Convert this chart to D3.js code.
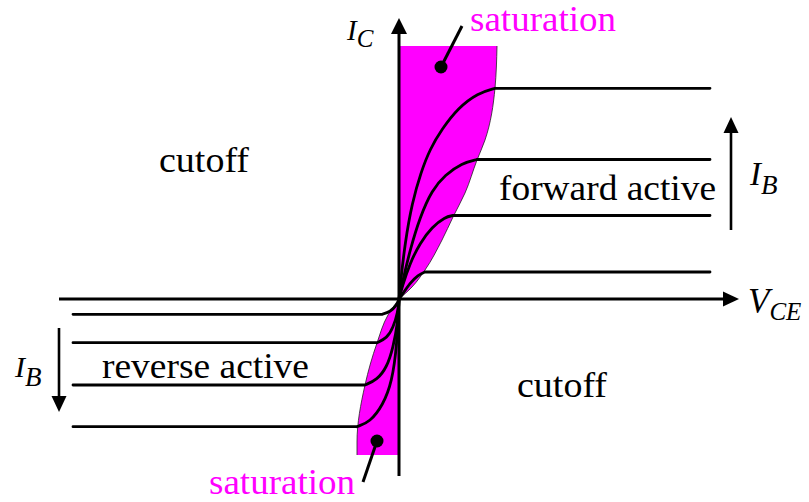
<!DOCTYPE html>
<html>
<head>
<meta charset="utf-8">
<script src="https://cdn.jsdelivr.net/npm/d3@7/dist/d3.min.js"></script>
<style>
  body { margin: 0; background: #fff; }
  svg { display: block; }
</style>
</head>
<body>
<div id="chart"></div>
<script>
// BJT output characteristic, I_C against V_CE (arbitrary units)
const vceExtent = [-34, 34];
const icExtent = [-17.6, 28.1];

// forward active curves, [VCE, IC]
const forwardCurves = [
    [[0, 0], [0.3, 0.4], [1.1, 1.6], [1.9, 2.4], [2.6, 2.7], [31.1, 2.7]],
    [[0, 0], [0.3, 1.2], [1.1, 3.6], [2.1, 5.6], [3.3, 7.2], [4.6, 8.2], [5.4, 8.35], [31.1, 8.35]],
    [[0, 0], [0.4, 1.9], [1.1, 4.9], [2.1, 8.2], [3.3, 10.9], [4.6, 12.4], [6.3, 13.6], [7.8, 13.95], [31.1, 13.95]],
    [[0, 0], [0.15, 1.6], [0.6, 5.6], [1.3, 9.6], [2.2, 12.7], [3.1, 15.0], [4.3, 17.0], [5.9, 19.1], [7.9, 20.6], [9.6, 21.07], [31.1, 21.07]]
];

// reverse active curves, [VCE, IC]
const reverseCurves = [
    [[-32.6, -1.53], [-1.7, -1.53], [-0.9, -1.3], [-0.2, -0.6], [0, 0]],
    [[-32.6, -4.37], [-2.2, -4.37], [-1.2, -3.9], [-0.6, -2.9], [-0.1, -1.3], [0, 0]],
    [[-32.6, -8.6], [-3.4, -8.6], [-2.2, -8.1], [-1.2, -6.8], [-0.6, -4.9], [-0.1, -2.3], [0, 0]],
    [[-32.6, -12.77], [-4.2, -12.77], [-2.9, -12.3], [-1.6, -10.6], [-0.7, -8.3], [-0.2, -4.6], [0, 0]]
];

// saturation region edges, [VCE, IC]
const satForward = [[0, 0], [1.3, 1.2], [2.6, 2.9], [4.3, 5.9], [5.4, 8.2], [6.6, 10.6], [7.8, 13.9], [8.6, 15.9], [9.6, 21.1], [9.8, 25.3]];
const satReverse = [[-4.2, -15.6], [-4.2, -14.3], [-3.4, -8.6], [-2.2, -4.4], [-1.1, -1.6], [0, 0]];

// I_B direction arrows, [VCE, IC from, IC to]
const ibArrows = [[33.2, 6.9, 18.2], [-34, -2.9, -11.3]];

// saturation pointers, [dot, end]
const satPointers = [[[4.2, 23.2], [6.3, 27.3]], [[-2.2, -14.2], [-3.6, -18.3]]];

const regionLabels = ['cutoff', 'forward active', 'reverse active', 'cutoff'];
const satLabel = 'saturation';

const width = 809, height = 502;
const magenta = '#ff00ff';
const FONT = "'Liberation Serif', 'Times New Roman', Tinos, 'Nimbus Roman', FreeSerif, 'DejaVu Serif'";

const svg = d3.select('#chart').append('svg')
    .attr('width', width)
    .attr('height', height);

const x = d3.scaleLinear().domain(vceExtent).range([59, 739]);
const y = d3.scaleLinear().domain(icExtent).range([475, 18]);

// saturation fill
const satArea = d3.area()
    .curve(d3.curveMonotoneY)
    .y(d => y(d[1]))
    .x0(x(0))
    .x1(d => x(d[0]));
const satEdge = d3.line()
    .curve(d3.curveMonotoneY)
    .x(d => x(d[0]))
    .y(d => y(d[1]));

[satForward, satReverse].forEach(pts => {
    svg.append('path')
        .attr('d', satArea(pts))
        .attr('fill', magenta);
    svg.append('path')
        .attr('d', satEdge(pts))
        .attr('fill', 'none')
        .attr('stroke', '#222')
        .attr('stroke-width', 0.8);
});

// characteristic curves: smooth bend, then flat run
const bendLine = d3.line()
    .curve(d3.curveBasis)
    .x(d => x(d[0]))
    .y(d => y(d[1]));

function curvePath(pts) {
    let flatAtEnd = pts[0][0] === 0;
    let bend = flatAtEnd ? pts.slice(0, -1) : pts.slice(1);
    let far = flatAtEnd ? pts[pts.length - 1] : pts[0];
    let knee = flatAtEnd ? bend[bend.length - 1] : bend[0];
    return bendLine(bend) + `M${ x(knee[0]) },${ y(knee[1]) }H${ x(far[0]) }`;
}

svg.append('g').selectAll('path')
    .data(forwardCurves.concat(reverseCurves))
    .enter()
    .append('path')
        .attr('d', curvePath)
        .attr('fill', 'none')
        .attr('stroke', '#000')
        .attr('stroke-width', 2.8)
        .attr('stroke-linecap', 'round');

// arrow helper
function arrow(x1, y1, x2, y2, sw, headLen, headHalf) {
    let ang = Math.atan2(y2 - y1, x2 - x1);
    let bx = x2 - headLen * Math.cos(ang), by = y2 - headLen * Math.sin(ang);
    svg.append('line')
        .attr('x1', x1).attr('y1', y1)
        .attr('x2', bx).attr('y2', by)
        .attr('stroke', '#000')
        .attr('stroke-width', sw);
    let px = -Math.sin(ang) * headHalf, py = Math.cos(ang) * headHalf;
    svg.append('polygon')
        .attr('points', `${ x2 },${ y2 } ${ bx + px },${ by + py } ${ bx - px },${ by - py }`)
        .attr('fill', '#000');
}

// axes
arrow(x(vceExtent[0]), y(0), x(vceExtent[1]), y(0), 3, 16, 7.5);
arrow(x(0), y(icExtent[0]) + 1, x(0), y(icExtent[1]), 3, 16, 8);

// I_B arrows
ibArrows.forEach(a => arrow(x(a[0]), y(a[1]), x(a[0]), y(a[2]), 2.6, 16, 7.5));

// saturation pointers
satPointers.forEach(p => {
    svg.append('line')
        .attr('x1', x(p[0][0])).attr('y1', y(p[0][1]))
        .attr('x2', x(p[1][0])).attr('y2', y(p[1][1]))
        .attr('stroke', '#000')
        .attr('stroke-width', 3);
    svg.append('circle')
        .attr('cx', x(p[0][0])).attr('cy', y(p[0][1]))
        .attr('r', 6.5)
        .attr('fill', '#000');
});

// region labels, widths matched to the figure
const labelPos = [[159, 172, 90], [499, 200, 217], [102, 378, 207], [517, 397, 90]];
regionLabels.forEach((t, i) => {
    svg.append('text')
        .attr('x', labelPos[i][0])
        .attr('y', labelPos[i][1])
        .attr('font-family', FONT)
        .attr('font-size', 36)
        .attr('textLength', labelPos[i][2])
        .attr('lengthAdjust', 'spacingAndGlyphs')
        .text(t);
});

[[470, 31], [209, 494]].forEach(p => {
    svg.append('text')
        .attr('x', p[0])
        .attr('y', p[1])
        .attr('font-family', FONT)
        .attr('font-size', 36)
        .attr('textLength', 146)
        .attr('lengthAdjust', 'spacingAndGlyphs')
        .attr('fill', magenta)
        .text(satLabel);
});

// axis symbols with subscripts
function symbol(px, py, main, sub, size, subSize, dy) {
    let t = svg.append('text')
        .attr('x', px)
        .attr('y', py)
        .attr('font-family', FONT)
        .attr('font-style', 'italic')
        .attr('font-size', size);
    t.append('tspan').text(main);
    t.append('tspan')
        .attr('font-size', subSize)
        .attr('dy', dy)
        .text(sub);
}

symbol(347, 40, 'I', 'C', 29, 25, 7);
symbol(748, 313, 'V', 'CE', 35, 25, 7);
symbol(750, 185, 'I', 'B', 33, 27, 9);
symbol(15, 377, 'I', 'B', 30, 27, 9);

// re-apply the serif face once the browser reports it ready
if (document.fonts && document.fonts.load) {
    Promise.all([
        document.fonts.load("36px 'Liberation Serif'"),
        document.fonts.load("italic 36px 'Liberation Serif'")
    ]).then(() => {
        svg.selectAll('text').attr('font-family', "'Liberation Serif', serif");
    });
}
</script>
</body>
</html>
